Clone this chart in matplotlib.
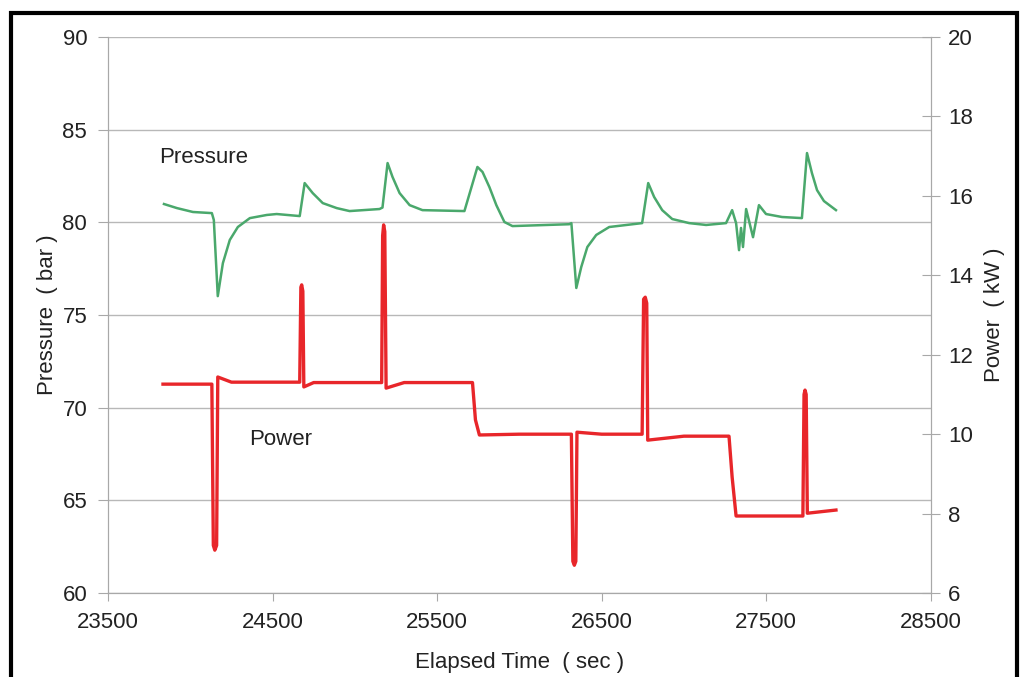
import matplotlib.pyplot as plt
from matplotlib.patches import Rectangle

plt.rcParams['font.family'] = ['Liberation Sans', 'DejaVu Sans']

# pressure trace (bar)
p_time = [23840, 23919, 24016, 24131, 24143, 24167, 24198, 24240, 24289,
          24362, 24465, 24525, 24665, 24695, 24744, 24805, 24890, 24968,
          25150, 25168, 25199, 25229, 25272, 25333, 25411, 25666, 25745,
          25776, 25818, 25860, 25909, 25958, 26303, 26316, 26346, 26376,
          26413, 26467, 26546, 26746, 26783, 26819, 26868, 26929, 27032,
          27135, 27256, 27293, 27317, 27335, 27347, 27359, 27378, 27420,
          27456, 27499, 27596, 27717, 27748, 27778, 27809, 27851, 27924]
p_val = [80.99, 80.77, 80.56, 80.5, 80.13, 76.02, 77.8, 79.05, 79.75,
         80.23, 80.4, 80.45, 80.34, 82.12, 81.58, 81.04, 80.77, 80.61,
         80.72, 80.8, 83.2, 82.45, 81.58, 80.93, 80.66, 80.61, 82.99,
         82.72, 81.9, 80.93, 80.02, 79.8, 79.9, 79.96, 76.46, 77.59,
         78.67, 79.32, 79.75, 79.96, 82.12, 81.37, 80.66, 80.18, 79.96,
         79.86, 79.96, 80.66, 79.96, 78.5, 79.7, 78.67, 80.72, 79.2,
         80.93, 80.45, 80.29, 80.23, 83.74, 82.66, 81.74, 81.15, 80.66]

# power trace (kW)
w_time = [23834, 24131, 24140, 24149, 24160, 24167, 24250, 24665, 24672,
          24677, 24684, 24690, 24750, 25163, 25169, 25175, 25182, 25190,
          25300, 25715, 25733, 25757, 26000, 26316, 26325, 26334, 26343,
          26350, 26500, 26746, 26755, 26765, 26774, 26780, 27000, 27274,
          27293, 27317, 27500, 27723, 27730, 27736, 27743, 27750, 27924]
w_val = [11.26, 11.26, 7.2, 7.08, 7.2, 11.44, 11.31, 11.31, 13.7,
         13.76, 13.6, 11.19, 11.3, 11.3, 15.0, 15.27, 15.1, 11.16,
         11.3, 11.3, 10.36, 9.98, 10.0, 10.0, 6.8, 6.70, 6.8,
         10.05, 10.0, 10.0, 13.4, 13.45, 13.3, 9.85, 9.95, 9.95,
         8.92, 7.94, 7.94, 7.94, 11.0, 11.11, 11.0, 8.01, 8.09]

fig = plt.figure(figsize=(10.22, 6.77), dpi=100)
ax = fig.add_axes([0.1057, 0.124, 0.805, 0.8213])
ax2 = ax.twinx()

grey = '#a8a8a8'
ax.plot(p_time, p_val, color='#4aa86c', lw=1.8)
ax2.plot(w_time, w_val, color='#e8262a', lw=2.4)

ax.set_xlim(23500, 28500)
ax.set_ylim(60, 90)
ax2.set_ylim(6, 20)
ax.set_xticks(range(23500, 28501, 1000))
ax.set_yticks(range(60, 91, 5))
ax2.set_yticks(range(6, 21, 2))

ax.grid(axis='y', color='#b8b8b8', lw=1)
ax.set_axisbelow(True)
for a in (ax, ax2):
    for s in a.spines.values():
        s.set_color(grey)
    a.spines['top'].set_visible(False)
ax.tick_params(axis='y', direction='out', length=7, color=grey,
               labelsize=16, pad=8, labelcolor='#222222')
ax.tick_params(axis='x', direction='out', length=6, color=grey,
               labelsize=16, pad=8, labelcolor='#222222')
ax2.tick_params(axis='y', direction='inout', length=13, color=grey,
                labelsize=16, pad=6, labelcolor='#222222')

ax.set_xlabel('Elapsed Time  ( sec )', fontsize=16, color='#222222', labelpad=13)
ax.set_ylabel('Pressure  ( bar )', fontsize=16, color='#222222', labelpad=3)
ax2.set_ylabel('Power  ( kW )', fontsize=16, color='#222222', labelpad=8)

ax.text(23810, 83.5, 'Pressure', fontsize=16, color='#222222', va='center')
ax.text(24360, 68.3, 'Power', fontsize=16, color='#222222', va='center')

# black frame round the whole picture, open at the bottom
fig.patches.append(Rectangle((11 / 1022, -0.05), 1006 / 1022, 1.05 - 13 / 677,
                             transform=fig.transFigure, fill=False,
                             edgecolor='black', lw=3))

fig.savefig('out.png', dpi=100)
